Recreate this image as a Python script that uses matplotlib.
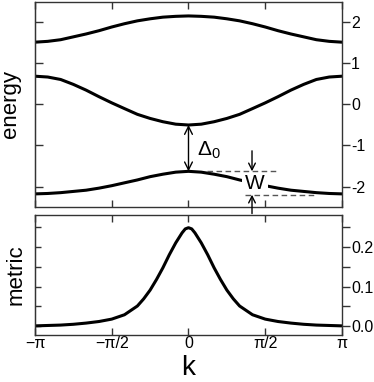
import numpy as np
import matplotlib.pyplot as plt
from matplotlib.ticker import FixedLocator, FixedFormatter, MultipleLocator

plt.rcParams['font.family'] = ['Liberation Sans', 'DejaVu Sans']
plt.rcParams['mathtext.fontset'] = 'custom'
plt.rcParams['mathtext.rm'] = 'Liberation Sans'
plt.rcParams['mathtext.it'] = 'Liberation Sans:italic'
plt.rcParams['axes.unicode_minus'] = False

# band energies, k in units of pi (step pi/12)
k_band = [-1.0, -0.917, -0.833, -0.75, -0.667, -0.583, -0.5, -0.417, -0.333, -0.25, -0.167, -0.083, 0.0,
          0.083, 0.167, 0.25, 0.333, 0.417, 0.5, 0.583, 0.667, 0.75, 0.833, 0.917, 1.0]
e_top = [1.52, 1.54, 1.58, 1.65, 1.72, 1.80, 1.89, 1.97, 2.04, 2.09, 2.13, 2.15, 2.16,
         2.15, 2.13, 2.09, 2.04, 1.97, 1.89, 1.80, 1.72, 1.65, 1.58, 1.54, 1.52]
e_mid = [0.69, 0.67, 0.61, 0.49, 0.35, 0.19, 0.04, -0.10, -0.24, -0.34, -0.42, -0.48, -0.50,
         -0.48, -0.42, -0.34, -0.24, -0.10, 0.04, 0.19, 0.35, 0.49, 0.61, 0.67, 0.69]
e_bot = [-2.18, -2.17, -2.15, -2.12, -2.09, -2.04, -1.98, -1.91, -1.84, -1.76, -1.70, -1.65, -1.63,
         -1.65, -1.70, -1.76, -1.84, -1.91, -1.98, -2.04, -2.09, -2.12, -2.15, -2.17, -2.18]

# quantum metric of the lowest band
k_metric = [-1.0, -0.917, -0.833, -0.75, -0.667, -0.583, -0.5, -0.417, -0.333, -0.292, -0.25, -0.208,
            -0.167, -0.125, -0.083, -0.042, -0.021, 0.0, 0.021, 0.042, 0.083, 0.125, 0.167, 0.208,
            0.25, 0.292, 0.333, 0.417, 0.5, 0.583, 0.667, 0.75, 0.833, 0.917, 1.0]
metric = [0.001, 0.002, 0.003, 0.005, 0.008, 0.012, 0.018, 0.029, 0.051, 0.069, 0.091, 0.118,
          0.147, 0.180, 0.210, 0.235, 0.245, 0.248, 0.245, 0.235, 0.210, 0.180, 0.147, 0.118,
          0.091, 0.069, 0.051, 0.029, 0.018, 0.012, 0.008, 0.005, 0.003, 0.002, 0.001]

k_ticks = [-np.pi, -np.pi / 2, 0, np.pi / 2, np.pi]
k_labels = ['\u2212\u03c0', '\u2212\u03c0/2', '0', '\u03c0/2', '\u03c0']
e_ticks = [-2, -1, 0, 1, 2]
m_ticks = [0.0, 0.1, 0.2]

kb = np.array(k_band) * np.pi
km = np.array(k_metric) * np.pi

fig = plt.figure(figsize=(3.74, 3.82), dpi=100)
ax1 = fig.add_axes([0.0936, 0.4581, 0.8208, 0.5367])
ax2 = fig.add_axes([0.0936, 0.1230, 0.8208, 0.3142])

spine_col = '#333333'
tick_fs = 11.5

for ax in (ax1, ax2):
    ax.set_xlim(-np.pi, np.pi)
    for s in ax.spines.values():
        s.set_color(spine_col)
        s.set_linewidth(1.0)
    ax.set_xticks(k_ticks)
    ax.tick_params(axis='x', direction='in', top=True, bottom=True, length=5,
                   width=1, color=spine_col, labelsize=tick_fs, pad=1)
    ax.yaxis.tick_right()
    ax.tick_params(axis='y', which='both', direction='out', right=True, left=False,
                   labelright=True, labelleft=False, length=6, width=1,
                   color=spine_col, labelsize=tick_fs, pad=0.5)

# --- energy panel
for band in (e_top, e_mid, e_bot):
    ax1.plot(kb, band, color='black', lw=2.2, zorder=2)
ax1.set_ylim(-2.5, 2.5)
ax1.tick_params(axis='x', labelbottom=False)
ax1.yaxis.set_major_locator(FixedLocator(e_ticks))
ax1.yaxis.set_major_formatter(FixedFormatter([str(t) for t in e_ticks]))
left1 = ax1.secondary_yaxis('left')
left1.set_yticks(e_ticks)
left1.tick_params(direction='in', length=6, width=1, color=spine_col, labelleft=False)
left1.spines['left'].set_color(spine_col)
ax1.yaxis.set_label_position('left')
ax1.set_ylabel('energy', fontsize=16, va='baseline')
ax1.yaxis.set_label_coords(-0.062, 0.5)

# gap Delta_0 at k = 0
gap_top = min(e_mid)
gap_bot = max(e_bot)
ax1.annotate('', xy=(0, gap_top), xytext=(0, gap_bot),
             arrowprops=dict(arrowstyle='<->', lw=1, color='black',
                             shrinkA=0, shrinkB=0, mutation_scale=14), zorder=5)
ax1.text(0.17, -1.25, r'$\Delta_0$', fontsize=15, ha='left', va='baseline')

# band width W
kW = 1.30
ax1.hlines(gap_bot, 0.38, 1.83, colors='#555555', linestyles=(0, (4, 2.5)), lw=1, zorder=4)
ax1.hlines(min(e_bot) - 0.02, 1.16, 2.63, colors='#555555', linestyles=(0, (4, 2.5)), lw=1, zorder=4)
ax1.annotate('', xy=(kW, gap_bot), xytext=(kW, -1.13),
             arrowprops=dict(arrowstyle='->', lw=1, color='black',
                             shrinkA=0, shrinkB=0, mutation_scale=12), zorder=5)
ax1.annotate('', xy=(kW, min(e_bot) - 0.02), xytext=(kW, -2.66),
             arrowprops=dict(arrowstyle='->', lw=1, color='black',
                             shrinkA=0, shrinkB=0, mutation_scale=12),
             annotation_clip=False, zorder=5)
ax1.text(1.36, -1.92, 'W', fontsize=15, ha='center', va='center', zorder=3,
         bbox=dict(facecolor='white', edgecolor='none', pad=2.5))

# --- metric panel
ax2.plot(km, metric, color='black', lw=2.2, zorder=2)
ax2.set_ylim(-0.022, 0.28)
ax2.set_xticklabels(k_labels)
ax2.yaxis.set_major_locator(FixedLocator(m_ticks))
ax2.yaxis.set_major_formatter(FixedFormatter(['%.1f' % t for t in m_ticks]))
ax2.yaxis.set_minor_locator(FixedLocator([0.05, 0.15, 0.25]))
left2 = ax2.secondary_yaxis('left')
left2.yaxis.set_major_locator(MultipleLocator(0.05))
left2.tick_params(direction='in', length=4, width=1, color=spine_col, labelleft=False)
left2.spines['left'].set_color(spine_col)
ax2.yaxis.set_label_position('left')
ax2.set_ylabel('metric', fontsize=16, va='baseline')
ax2.yaxis.set_label_coords(-0.043, 0.5)
ax2.set_xlabel('k', fontsize=20, va='baseline')
ax2.xaxis.set_label_coords(0.5, -0.333)

fig.savefig('out.png', dpi=100)
